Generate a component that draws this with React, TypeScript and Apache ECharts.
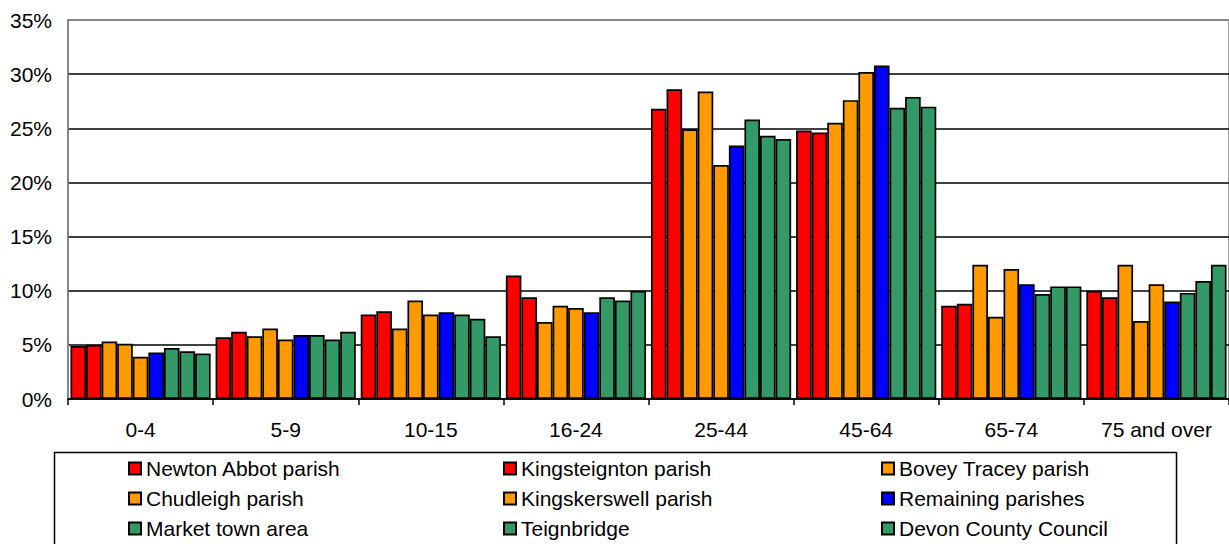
import React, { useEffect, useRef } from "react";
import * as echarts from "echarts";

const categories = ["0-4", "5-9", "10-15", "16-24", "25-44", "45-64", "65-74", "75 and over"];

const newtonAbbot = [4.9, 5.7, 7.8, 11.4, 26.8, 24.8, 8.6, 10.0];
const kingsteignton = [5.0, 6.2, 8.1, 9.4, 28.6, 24.6, 8.8, 9.4];
const boveyTracey = [5.3, 5.8, 6.5, 7.1, 24.9, 25.5, 12.4, 12.4];
const chudleigh = [5.1, 6.5, 9.1, 8.6, 28.4, 27.6, 7.6, 7.2];
const kingskerswell = [3.9, 5.5, 7.8, 8.4, 21.6, 30.2, 12.0, 10.6];
const remaining = [4.3, 5.9, 8.0, 8.0, 23.4, 30.8, 10.6, 9.0];
const marketTown = [4.7, 5.9, 7.8, 9.4, 25.8, 26.9, 9.7, 9.8];
const teignbridge = [4.4, 5.5, 7.4, 9.1, 24.3, 27.9, 10.4, 10.9];
const devon = [4.2, 6.2, 5.8, 10.0, 24.0, 27.0, 10.4, 12.4];

const yTicks = ["0%", "5%", "10%", "15%", "20%", "25%", "30%", "35%"];

const RED = "#FF0000";
const ORANGE = "#FF9900";
const BLUE = "#0000FF";
const GREEN = "#339966";

const seriesDefs = [
  { name: "Newton Abbot parish", data: newtonAbbot, color: RED },
  { name: "Kingsteignton parish", data: kingsteignton, color: RED },
  { name: "Bovey Tracey parish", data: boveyTracey, color: ORANGE },
  { name: "Chudleigh parish", data: chudleigh, color: ORANGE },
  { name: "Kingskerswell parish", data: kingskerswell, color: ORANGE },
  { name: "Remaining parishes", data: remaining, color: BLUE },
  { name: "Market town area", data: marketTown, color: GREEN },
  { name: "Teignbridge", data: teignbridge, color: GREEN },
  { name: "Devon County Council", data: devon, color: GREEN },
];

const legendColumns = [
  ["Newton Abbot parish", "Chudleigh parish", "Market town area"],
  ["Kingsteignton parish", "Kingskerswell parish", "Teignbridge"],
  ["Bovey Tracey parish", "Remaining parishes", "Devon County Council"],
];
const legendLefts = [128, 503, 881];

const FONT = "Liberation Sans, Arial, sans-serif";
const FS = 21;

export default function App() {
  const ref = useRef<HTMLDivElement>(null);
  useEffect(() => {
    if (!ref.current) return;
    const chart = echarts.init(ref.current, undefined, { renderer: "svg" });
    chart.setOption({
      animation: false,
      backgroundColor: "#ffffff",
      textStyle: { fontFamily: FONT },
      grid: {
        left: 68,
        top: 20,
        width: 1168,
        height: 379,
        show: true,
        borderColor: "#808080",
        borderWidth: 1.5,
        containLabel: false,
      },
      xAxis: {
        type: "category",
        data: categories,
        boundaryGap: true,
        axisLine: { show: true, lineStyle: { color: "#000", width: 1.5 } },
        axisTick: { show: true, length: 6, lineStyle: { color: "#000", width: 1.5 } },
        axisLabel: { color: "#000", fontSize: FS, fontFamily: FONT, margin: 20, interval: 0 },
        z: 10,
      },
      yAxis: {
        type: "value",
        min: 0,
        max: 35,
        interval: 5,
        axisLine: { show: true, lineStyle: { color: "#808080", width: 1.5 } },
        axisTick: { show: false },
        axisLabel: {
          color: "#000",
          fontSize: FS,
          fontFamily: FONT,
          margin: 16,
          formatter: (v: number) => yTicks[Math.round(v / 5)] ?? v + "%",
        },
        splitLine: {
          show: true,
          lineStyle: {
            color: ["#000", "#000", "#000", "#000", "#000", "#000", "#000", "#808080"],
            width: 1.5,
          },
        },
      },
      legend: legendColumns.map((col, i) => ({
        orient: "vertical",
        left: legendLefts[i],
        top: 458,
        padding: 0,
        itemWidth: 12,
        itemHeight: 12,
        itemGap: 9,
        icon: "rect",
        selectedMode: false,
        data: col,
        textStyle: { color: "#000", fontSize: FS, lineHeight: 20, fontFamily: FONT },
      })),
      graphic: [
        {
          type: "rect",
          shape: { x: 54.5, y: 452.5, width: 1122, height: 130 },
          style: { fill: "none", stroke: "#000", lineWidth: 1.5 },
          silent: true,
        },
      ],
      series: seriesDefs.map((s) => ({
        type: "bar",
        name: s.name,
        data: s.data,
        barGap: "0%",
        barCategoryGap: "3.4%",
        itemStyle: { color: s.color, borderColor: "#000", borderWidth: 1.7 },
      })),
    });
    return () => chart.dispose();
  }, []);
  return (
    <div
      ref={ref}
      style={{ position: "fixed", left: 0, top: 0, width: 1229, height: 544 }}
    />
  );
}
